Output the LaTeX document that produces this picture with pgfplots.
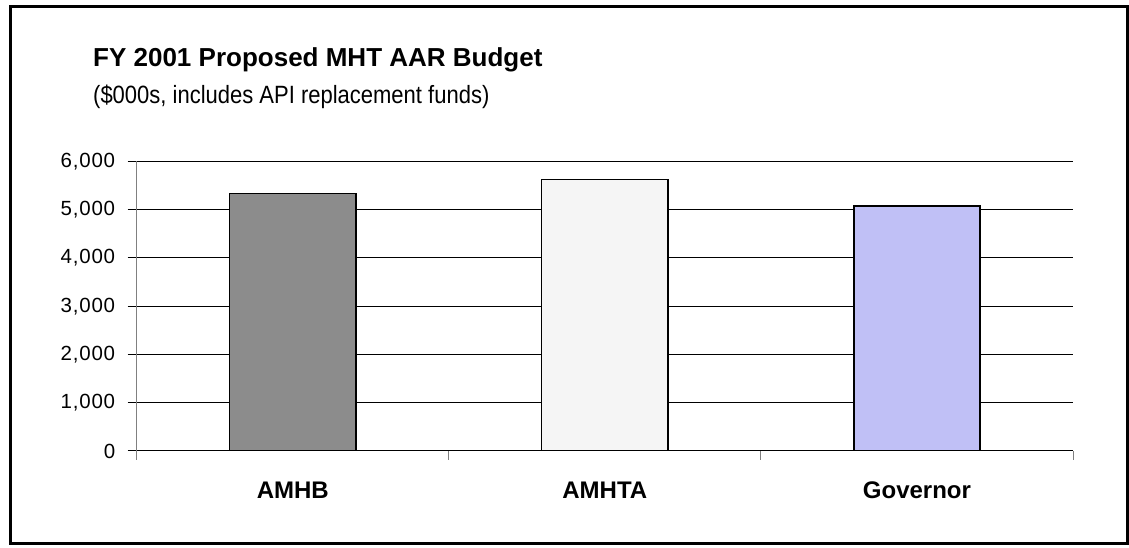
\documentclass[border=0pt]{standalone}
\usepackage{pgfplots}
\pgfplotsset{compat=1.18}
\usepackage{fontspec}
\setmainfont{Liberation Sans}
\definecolor{govfill}{RGB}{192,192,246}
\definecolor{amhbfill}{RGB}{140,140,140}
\definecolor{amhtafill}{RGB}{245,245,245}
\begin{document}
\begin{tikzpicture}[x=1pt,y=1pt]
\useasboundingbox (0,0) rectangle (1129,548);
\draw[line width=3pt] (10,4) rectangle (1127.5,541.3);
\node[anchor=base west, inner sep=0, font=\fontsize{26}{30}\selectfont\bfseries] at (93,481) {FY 2001 Proposed MHT AAR Budget};
\node[anchor=base west, inner sep=0, xscale=0.88, font=\fontsize{25}{28}\selectfont] at (93,444) {(\$000s, includes API replacement funds)};
\begin{axis}[
  at={(136.7pt,97pt)}, anchor=south west,
  scale only axis, width=936.3pt, height=289.5pt,
  xmin=-0.5, xmax=2.5, ymin=0, ymax=6000,
  separate axis lines,
  axis x line*=bottom, axis y line*=left,
  x axis line style={-, black, line width=1pt},
  y axis line style={-, gray, line width=1pt},
  tick align=outside, major tick length=9pt,
  ytick={0,1000,2000,3000,4000,5000,6000},
  ymajorgrids, grid style={black, line width=1pt},
  ytick style={black, line width=1pt},
  xtick={-0.5,0.5,1.5,2.5}, xticklabels={},
  xtick style={gray, line width=1pt},
  extra x ticks={0,1,2},
  extra x tick labels={AMHB,AMHTA,Governor},
  extra x tick style={major tick length=0pt, grid=none},
  xticklabel style={anchor=base, yshift=-48pt, font=\fontsize{24}{24}\selectfont\bfseries},
  yticklabel style={font=\fontsize{20.5}{20}\selectfont\addfontfeature{LetterSpace=4}, xshift=-9pt},
  /pgf/number format/.cd, 1000 sep={,}, assume math mode=true,
  /pgfplots/.cd,
  ybar, bar width=126.5pt,
]
\addplot[bar shift=0pt, fill=amhbfill, draw=black, line width=1.6pt] coordinates {(0,5335)};
\addplot[bar shift=0pt, fill=amhtafill, draw=black, line width=1.6pt] coordinates {(1,5630)};
\addplot[bar shift=0pt, fill=govfill, draw=black, line width=1.6pt] coordinates {(2,5075)};
\end{axis}
\end{tikzpicture}
\end{document}
